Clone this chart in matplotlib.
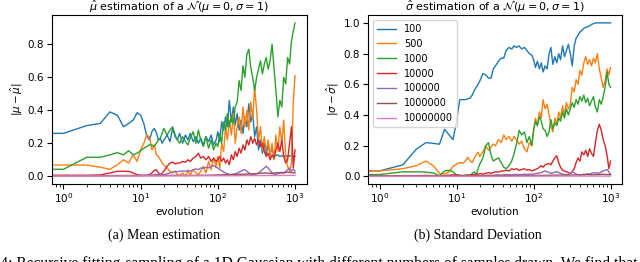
import numpy as np
import matplotlib.pyplot as plt

# evolution steps (x axis); 0 is clipped by the log scale like in the original run
evo = ([0, 1, 2, 3, 4, 5, 6, 7, 8, 9, 10, 11, 12, 13, 14, 15, 16, 17, 18, 19, 20]
       + [22, 24, 26, 28, 30, 32, 35, 38, 41, 44, 48, 52, 56, 60, 65, 70, 76, 82, 88, 95]
       + [100, 106, 112, 119, 126, 133, 141, 150, 159, 168, 178, 189, 200, 212, 224, 238, 252, 267, 283, 300,
          318, 337, 357, 378, 400, 424, 449, 476, 504, 534, 566, 600, 636, 674, 714, 757, 802, 850, 900, 950, 999])
evo_sparse = [0, 1, 2, 5, 10, 20, 40, 70, 100, 150, 200, 300, 400, 500, 600, 700, 800, 900, 999]

labels = ["100", "500", "1000", "10000", "100000", "1000000", "10000000"]

# |mu - mu_hat|
mu_100 = ([0.26, 0.26, 0.307, 0.32, 0.39, 0.37, 0.30, 0.32, 0.34, 0.385, 0.37, 0.32, 0.245, 0.22, 0.27, 0.29, 0.265, 0.22, 0.23, 0.20, 0.22]
          + [0.25, 0.21, 0.29, 0.24, 0.22, 0.26, 0.20, 0.25, 0.22, 0.26, 0.21, 0.24, 0.20, 0.23, 0.19, 0.24, 0.21, 0.25, 0.19, 0.22]
          + [0.27, 0.21, 0.33, 0.28, 0.36, 0.30, 0.46, 0.33, 0.42, 0.31, 0.38, 0.28, 0.34, 0.26, 0.36, 0.30, 0.44, 0.33, 0.38, 0.24,
             0.30, 0.16, 0.22, 0.14, 0.20, 0.13, 0.19, 0.14, 0.17, 0.12, 0.125, 0.13, 0.12, 0.125, 0.12, 0.125, 0.12, 0.125, 0.12, 0.125, 0.12])
mu_500 = ([0.068, 0.068, 0.068, 0.055, 0.042, 0.07, 0.10, 0.08, 0.13, 0.09, 0.16, 0.2, 0.25, 0.24, 0.16, 0.19, 0.13, 0.12, 0.10, 0.08, 0.07]
          + [0.05, 0.03, 0.02, 0.03, 0.01, 0.005, 0.02, 0.0, 0.03, 0.01, 0.04, 0.02, 0.01, 0.03, 0.06, 0.02, 0.09, 0.04, 0.11, 0.06]
          + [0.12, 0.05, 0.20, 0.15, 0.30, 0.22, 0.34, 0.25, 0.38, 0.20, 0.30, 0.36, 0.26, 0.42, 0.30, 0.40, 0.28, 0.45, 0.35, 0.54,
             0.40, 0.22, 0.30, 0.16, 0.24, 0.15, 0.22, 0.12, 0.20, 0.10, 0.25, 0.15, 0.30, 0.20, 0.34, 0.12, 0.06, 0.03, 0.08, 0.45, 0.61])
mu_1000 = ([0.042, 0.042, 0.115, 0.115, 0.13, 0.143, 0.13, 0.155, 0.13, 0.14, 0.156, 0.17, 0.18, 0.19, 0.19, 0.18, 0.2, 0.22, 0.23, 0.26, 0.29]
           + [0.25, 0.28, 0.3, 0.25, 0.22, 0.2, 0.24, 0.21, 0.19, 0.23, 0.27, 0.2, 0.28, 0.22, 0.18, 0.24, 0.17, 0.22, 0.16, 0.2]
           + [0.18, 0.26, 0.2, 0.33, 0.28, 0.38, 0.3, 0.36, 0.32, 0.42, 0.45, 0.58, 0.52, 0.67, 0.6, 0.74, 0.77, 0.66, 0.6, 0.52,
              0.6, 0.65, 0.7, 0.62, 0.68, 0.72, 0.65, 0.7, 0.8, 0.66, 0.52, 0.36, 0.46, 0.42, 0.6, 0.56, 0.72, 0.68, 0.82, 0.88, 0.93])
mu_10000 = ([0.006, 0.006, 0.006, 0.008, 0.02, 0.03, 0.03, 0.03, 0.02, 0.01, 0.005, 0.005, 0.005, 0.01, 0.02, 0.035, 0.04, 0.02, 0.01, 0.02, 0.03]
            + [0.06, 0.08, 0.085, 0.075, 0.08, 0.08, 0.09, 0.085, 0.1, 0.09, 0.11, 0.12, 0.14, 0.11, 0.12, 0.1, 0.12, 0.09, 0.11, 0.09]
            + [0.1, 0.12, 0.09, 0.11, 0.08, 0.1, 0.07, 0.13, 0.1, 0.15, 0.12, 0.17, 0.14, 0.19, 0.16, 0.22, 0.19, 0.24, 0.2, 0.23,
               0.19, 0.22, 0.18, 0.2, 0.15, 0.12, 0.14, 0.1, 0.13, 0.11, 0.16, 0.2, 0.15, 0.22, 0.12, 0.08, 0.1, 0.2, 0.3, 0.05, 0.16])
mu_100000 = ([0.004, 0.004, 0.004, 0.004, 0.004, 0.004, 0.004, 0.004, 0.004, 0.004, 0.006, 0.006, 0.006, 0.006, 0.006, 0.01, 0.01, 0.01, 0.01, 0.01, 0.01]
             + [0.015, 0.02, 0.025, 0.03, 0.028, 0.03, 0.032, 0.03, 0.035, 0.03, 0.04, 0.045, 0.04, 0.05, 0.048, 0.055, 0.05, 0.06, 0.065, 0.055]
             + [0.05, 0.04, 0.035, 0.025, 0.02, 0.015, 0.012, 0.01, 0.012, 0.015, 0.02, 0.025, 0.03, 0.038, 0.04, 0.03, 0.02, 0.015, 0.01, 0.012,
                0.015, 0.02, 0.03, 0.04, 0.05, 0.06, 0.05, 0.035, 0.02, 0.01, 0.012, 0.015, 0.02, 0.025, 0.02, 0.03, 0.04, 0.05, 0.03, 0.045, 0.03])
mu_1000000 = [0.003, 0.003, 0.003, 0.004, 0.004, 0.005, 0.005, 0.006, 0.008, 0.01, 0.012, 0.015, 0.02, 0.018, 0.022, 0.02, 0.025, 0.022, 0.02]
mu_10000000 = [0.002, 0.002, 0.002, 0.002, 0.002, 0.002, 0.003, 0.003, 0.003, 0.003, 0.004, 0.004, 0.004, 0.005, 0.004, 0.005, 0.005, 0.005, 0.005]

# |sigma - sigma_hat|
sd_100 = ([0.036, 0.036, 0.075, 0.177, 0.22, 0.215, 0.21, 0.307, 0.27, 0.24, 0.36, 0.5, 0.5, 0.5, 0.505, 0.51, 0.53, 0.56, 0.58, 0.6, 0.62]
          + [0.67, 0.66, 0.64, 0.64, 0.7, 0.72, 0.75, 0.77, 0.77, 0.82, 0.84, 0.83, 0.85, 0.84, 0.85, 0.83, 0.84, 0.82, 0.8, 0.79]
          + [0.76, 0.71, 0.75, 0.7, 0.74, 0.68, 0.72, 0.7, 0.8, 0.84, 0.73, 0.78, 0.74, 0.8, 0.76, 0.85, 0.78, 0.82, 0.86, 0.8,
             0.72, 0.85, 0.9, 0.92, 0.94, 0.95, 0.965, 0.97, 0.975, 0.98, 0.99, 0.995, 1.0, 1.0, 1.0, 1.0, 1.0, 1.0, 1.0, 1.0, 1.0])
sd_500 = ([0.036, 0.036, 0.05, 0.07, 0.1, 0.07, 0.02, 0.015, 0.03, 0.065, 0.08, 0.09, 0.085, 0.1, 0.125, 0.1, 0.09, 0.12, 0.14, 0.157, 0.13]
          + [0.16, 0.2, 0.17, 0.19, 0.21, 0.2, 0.24, 0.22, 0.27, 0.24, 0.26, 0.23, 0.26, 0.24, 0.21, 0.23, 0.18, 0.16, 0.22, 0.2]
          + [0.3, 0.38, 0.33, 0.42, 0.38, 0.5, 0.44, 0.47, 0.4, 0.33, 0.29, 0.38, 0.34, 0.42, 0.38, 0.46, 0.4, 0.48, 0.44, 0.47,
             0.58, 0.55, 0.63, 0.6, 0.69, 0.66, 0.74, 0.78, 0.73, 0.76, 0.72, 0.77, 0.74, 0.8, 0.7, 0.64, 0.58, 0.62, 0.7, 0.66, 0.71])
sd_1000 = ([0.012, 0.012, 0.03, 0.03, 0.028, 0.022, 0.005, 0.035, 0.04, 0.03, 0.01, 0.005, 0.005, 0.008, 0.01, 0.005, 0.02, 0.03, 0.01, 0.05, 0.08]
           + [0.12, 0.2, 0.22, 0.14, 0.1, 0.11, 0.12, 0.09, 0.06, 0.05, 0.07, 0.1, 0.15, 0.21, 0.3, 0.27, 0.29, 0.22, 0.26, 0.2]
           + [0.3, 0.36, 0.33, 0.39, 0.36, 0.31, 0.3, 0.26, 0.29, 0.37, 0.31, 0.35, 0.33, 0.38, 0.36, 0.42, 0.38, 0.44, 0.4, 0.44,
              0.48, 0.45, 0.5, 0.47, 0.52, 0.49, 0.53, 0.48, 0.51, 0.46, 0.49, 0.52, 0.45, 0.42, 0.5, 0.47, 0.52, 0.58, 0.68, 0.6, 0.58])
sd_10000 = ([0.004, 0.004, 0.005, 0.005, 0.006, 0.005, 0.004, 0.006, 0.008, 0.01, 0.01, 0.008, 0.006, 0.005, 0.008, 0.01, 0.012, 0.01, 0.014, 0.015, 0.018]
            + [0.015, 0.02, 0.025, 0.02, 0.025, 0.03, 0.028, 0.035, 0.036, 0.04, 0.035, 0.05, 0.045, 0.05, 0.04, 0.045, 0.05, 0.04, 0.045, 0.035]
            + [0.04, 0.045, 0.05, 0.06, 0.07, 0.06, 0.075, 0.08, 0.085, 0.075, 0.1, 0.12, 0.135, 0.09, 0.06, 0.04, 0.035, 0.03, 0.025, 0.02,
               0.03, 0.05, 0.09, 0.12, 0.1, 0.16, 0.14, 0.17, 0.13, 0.18, 0.15, 0.13, 0.22, 0.3, 0.34, 0.3, 0.24, 0.2, 0.14, 0.05, 0.1])
sd_100000 = ([0.002, 0.002, 0.003, 0.003, 0.002, 0.003, 0.004, 0.003, 0.002, 0.003, 0.004, 0.004, 0.003, 0.004, 0.005, 0.004, 0.005, 0.006, 0.005, 0.006, 0.006]
             + [0.006, 0.007, 0.008, 0.007, 0.008, 0.009, 0.01, 0.009, 0.01, 0.011, 0.012, 0.01, 0.012, 0.013, 0.011, 0.012, 0.014, 0.013, 0.015, 0.014]
             + [0.016, 0.018, 0.02, 0.022, 0.025, 0.03, 0.035, 0.03, 0.025, 0.02, 0.022, 0.028, 0.032, 0.025, 0.02, 0.015, 0.012, 0.01, 0.012, 0.02,
                0.03, 0.025, 0.015, 0.01, 0.012, 0.01, 0.015, 0.012, 0.018, 0.015, 0.02, 0.025, 0.02, 0.025, 0.02, 0.03, 0.035, 0.04, 0.045, 0.03, 0.012])
sd_1000000 = [0.003, 0.003, 0.003, 0.003, 0.004, 0.004, 0.005, 0.005, 0.006, 0.007, 0.008, 0.009, 0.01, 0.012, 0.01, 0.012, 0.014, 0.012, 0.012]
sd_10000000 = [0.001, 0.001, 0.001, 0.001, 0.001, 0.001, 0.001, 0.002, 0.002, 0.002, 0.002, 0.002, 0.002, 0.002, 0.002, 0.002, 0.002, 0.002, 0.002]

mu_series = [(evo, mu_100), (evo, mu_500), (evo, mu_1000), (evo, mu_10000),
             (evo, mu_100000), (evo_sparse, mu_1000000), (evo_sparse, mu_10000000)]
sd_series = [(evo, sd_100), (evo, sd_500), (evo, sd_1000), (evo, sd_10000),
             (evo, sd_100000), (evo_sparse, sd_1000000), (evo_sparse, sd_10000000)]

fs = 7.5
fig = plt.figure(figsize=(6.4, 2.62), dpi=100)
ax1 = fig.add_axes([0.081, 0.298, 0.398, 0.644])
ax2 = fig.add_axes([0.575, 0.298, 0.397, 0.644])

for (x, y), lab in zip(mu_series, labels):
    ax1.plot(x, y, lw=1.0, label=lab)
for (x, y), lab in zip(sd_series, labels):
    ax2.plot(x, y, lw=1.0, label=lab)

for ax in (ax1, ax2):
    ax.set_xscale("log")
    ax.set_xlabel("evolution", fontsize=fs, labelpad=1)
    ax.tick_params(labelsize=fs, pad=2)

title_kw = dict(fontsize=8, pad=0.5)
ax1.set_title(r"$\hat{\mu}$ estimation of a $\mathcal{N}(\mu=0,\sigma=1)$", **title_kw)
ax1.set_ylabel(r"$|\mu-\hat{\mu}|$", fontsize=fs, labelpad=2)
ax1.set_yticks([0.0, 0.2, 0.4, 0.6, 0.8])

ax2.set_title(r"$\hat{\sigma}$ estimation of a $\mathcal{N}(\mu=0,\sigma=1)$", **title_kw)
ax2.set_ylabel(r"$|\sigma-\hat{\sigma}|$", fontsize=fs, labelpad=2)
ax2.legend(loc="upper left", fontsize=7)

fig.text(164 / 640, 0.103, "(a) Mean estimation", family="Liberation Serif", fontsize=10, ha="center", va="center")
fig.text(478 / 640, 0.103, "(b) Standard Deviation", family="Liberation Serif", fontsize=10, ha="center", va="center")
fig.text(638 / 640, 0.024, "Figure 4: Recursive fitting-sampling of a 1D Gaussian with different numbers of samples drawn. We find that",
         family="Liberation Serif", fontsize=11.2, ha="right", va="top")

fig.savefig("out.png", dpi=100)
